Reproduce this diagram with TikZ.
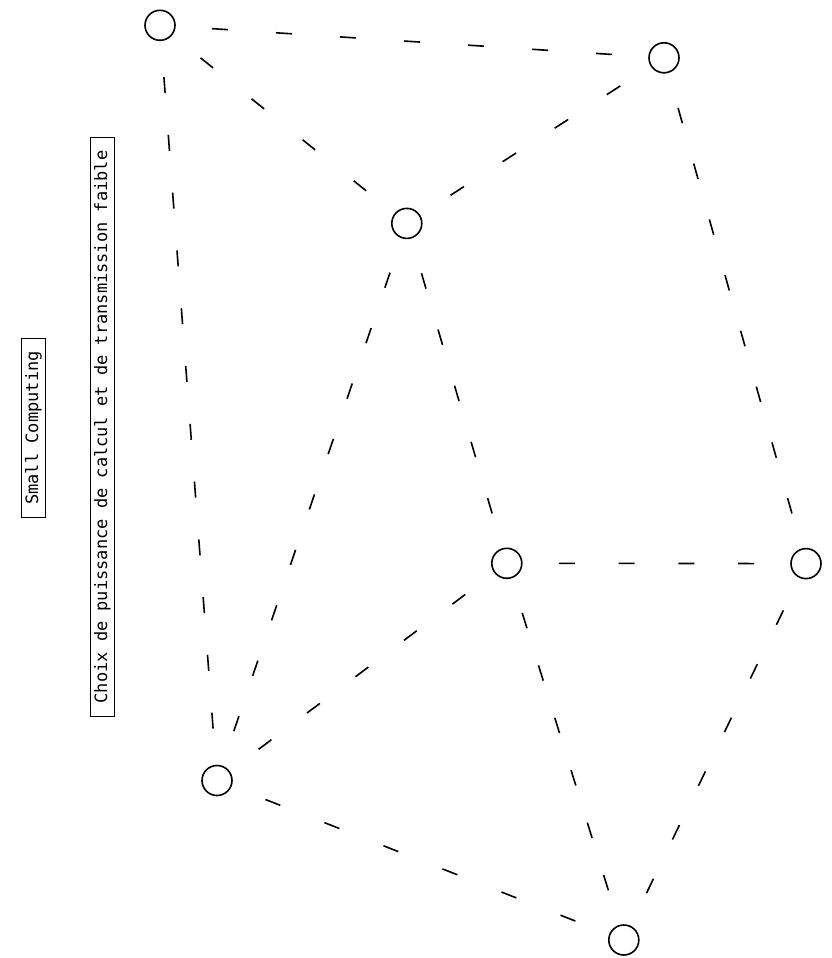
\documentclass[tikz,border=0pt]{standalone}
\usepackage{fontspec}
\setmonofont{DejaVu Sans Mono}
\usetikzlibrary{calc}
\tikzset{
  vertex/.style={circle,draw,line width=1.6pt,minimum size=30pt,inner sep=0pt},
  edgeline/.style={line width=1.6pt,shorten <=52pt,shorten >=52pt},
  labelbox/.style={draw,line width=1.2pt,rotate=90,inner xsep=13pt,inner ysep=4pt,
    font=\ttfamily\fontsize{17}{20}\selectfont}
}
\makeatletter
\newcommand\dashedge[3]{%
  \pgfpointdiff{\pgfpointanchor{#1}{center}}{\pgfpointanchor{#2}{center}}%
  \edef\de@x{\the\pgf@x}\edef\de@y{\the\pgf@y}%
  \pgfmathsetmacro\de@len{veclen(\de@x,\de@y)}%
  \pgfmathsetmacro\de@gap{(\de@len-104-16*#3)/(#3-1)}%
  \draw[edgeline,dash pattern=on 16pt off \de@gap pt] (#1.center) -- (#2.center);%
}
\makeatother
\begin{document}
\begin{tikzpicture}[x=1pt,y=-1pt]
\useasboundingbox (0,0) rectangle (831,958);
\node[vertex] (A) at (160,25.3) {};
\node[vertex] (B) at (664,57.8) {};
\node[vertex] (C) at (406.8,223.4) {};
\node[vertex] (D) at (506.8,563.3) {};
\node[vertex] (E) at (806,563.6) {};
\node[vertex] (F) at (217,780.5) {};
\node[vertex] (G) at (623.8,940) {};
\node[labelbox] (sc) at (33.5,428) {Small Computing};
\node[labelbox] (ch) at (102.5,427) {Choix de puissance de calcul et de transmission faible};
\dashedge{A}{B}{7}
\dashedge{A}{C}{4}
\dashedge{A}{F}{12}
\dashedge{B}{C}{4}
\dashedge{B}{E}{8}
\dashedge{C}{F}{9}
\dashedge{C}{D}{5}
\dashedge{D}{E}{4}
\dashedge{D}{F}{5}
\dashedge{D}{G}{6}
\dashedge{E}{G}{6}
\dashedge{F}{G}{6}
\end{tikzpicture}
\end{document}
